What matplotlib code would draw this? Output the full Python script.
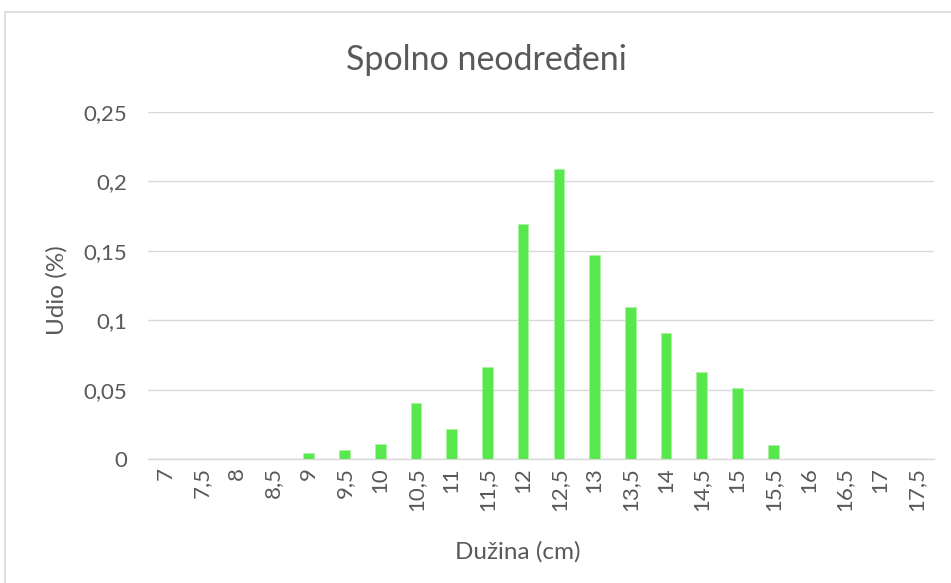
import matplotlib
matplotlib.use("Agg")
import matplotlib.pyplot as plt
from matplotlib.patches import Rectangle
import numpy as np

# chart data
lengths = ["7", "7,5", "8", "8,5", "9", "9,5", "10", "10,5", "11", "11,5", "12",
           "12,5", "13", "13,5", "14", "14,5", "15", "15,5", "16", "16,5", "17", "17,5"]
shares = [0, 0, 0, 0, 0.004, 0.0068, 0.0106, 0.040, 0.0215, 0.066, 0.169,
          0.209, 0.1467, 0.1096, 0.091, 0.0624, 0.0513, 0.0104, 0, 0, 0, 0]
yticks = [0, 0.05, 0.1, 0.15, 0.2, 0.25]
ytick_labels = ["0", "0,05", "0,1", "0,15", "0,2", "0,25"]

plt.rcParams['font.family'] = ['Lato', 'DejaVu Sans']
textcol = "#595959"

W, H = 951, 583
fig = plt.figure(figsize=(W / 100, H / 100), dpi=100)

# outer chart border
fig.patches.append(Rectangle((5 / W, -0.01), 1.0, 1 - 12 / H + 0.01,
                             transform=fig.transFigure, fill=False,
                             edgecolor="#d9d9d9", linewidth=1.2))

ax = fig.add_axes([148 / W, 1 - 459 / H, (934 - 148) / W, (459 - 112) / H])

x = np.arange(len(lengths))
ax.bar(x, shares, width=0.3, color="#58e84d", edgecolor="#a8f2a0", linewidth=0.6, zorder=3)

ax.set_xlim(-0.5, len(lengths) - 0.5)
ax.set_ylim(0, 0.25)
ax.set_yticks(yticks)
ax.set_yticklabels(ytick_labels)
ax.set_xticks(x)
ax.set_xticklabels(lengths, rotation=90, va="top", ha="center")

ax.grid(axis="y", color="#d9d9d9", linewidth=1)
ax.set_axisbelow(True)
for s in ["top", "right", "left"]:
    ax.spines[s].set_visible(False)
ax.spines["bottom"].set_color("#d9d9d9")
ax.spines["bottom"].set_linewidth(1)
ax.tick_params(axis="both", length=0, labelsize=16, colors=textcol, pad=6)
ax.tick_params(axis="y", pad=15)

fig.text(486 / W, 1 - 60 / H, "Spolno neodređeni", ha="center", va="center",
         fontsize=24.5, color=textcol)
fig.text(57 / W, 1 - 290 / H, "Udio (%)", ha="center", va="center", rotation=90,
         fontsize=17.5, color=textcol)
fig.text(518 / W, 1 - 552 / H, "Dužina (cm)", ha="center", va="center",
         fontsize=17.5, color=textcol)

fig.savefig("out.png", dpi=100)
